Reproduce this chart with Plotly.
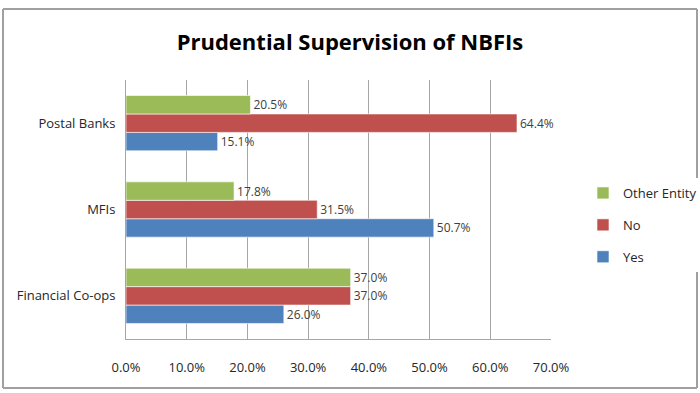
import plotly.graph_objects as go

categories = ["Financial Co-ops", "MFIs", "Postal Banks"]
yes_vals = [26.0, 50.7, 15.1]
no_vals = [37.0, 31.5, 64.4]
other_vals = [37.0, 17.8, 20.5]
tick_vals = [0, 10, 20, 30, 40, 50, 60, 70]
tick_text = [f"{v:.1f}%" for v in tick_vals]

series = [
    ("Yes", yes_vals, "#4F81BD", 3),
    ("No", no_vals, "#C0504D", 2),
    ("Other Entity", other_vals, "#9BBB59", 1),
]

fig = go.Figure()
for name, vals, color, rank in series:
    fig.add_trace(go.Bar(
        y=categories, x=vals, name=name, orientation="h",
        marker=dict(color=color, line=dict(color="rgba(255,255,255,0.6)", width=1)),
        text=[f"{v:.1f}%" for v in vals], textposition="outside",
        textfont=dict(family="Open Sans", size=12, color="#404040"),
        cliponaxis=False, legendgroup=name, legendrank=rank,
    ))

L, R, T, B = 126, 149, 80, 54
PW, PH = 700 - L - R, 393 - T - B

def px_x(p):
    return (p - L) / PW

def px_y(p):
    return (393 - B - p) / PH

border = dict(color="#A0A0A0", width=2)
fig.update_layout(
    width=700, height=393,
    margin=dict(l=L, r=R, t=T, b=B, autoexpand=False),
    paper_bgcolor="white", plot_bgcolor="white",
    barmode="group", bargap=0.36, bargroupgap=0.0,
    title=dict(text="<b>Prudential Supervision of NBFIs</b>", x=0.5, xanchor="center",
               y=0.893, yanchor="middle",
               font=dict(family="Open Sans", size=22, color="#000000")),
    font=dict(family="Open Sans", size=13, color="#262626"),
    xaxis=dict(range=[0, 70], tickvals=tick_vals, ticktext=tick_text,
               showgrid=True, gridcolor="#A6A6A6", gridwidth=1,
               showline=True, linecolor="#A6A6A6", zeroline=False,
               ticks="", tickfont=dict(size=13, color="#262626"),
               ticklabelstandoff=16, automargin=False),
    yaxis=dict(showline=True, linecolor="#A6A6A6", showgrid=False,
               ticks="", tickfont=dict(size=13, color="#262626"),
               ticklabelstandoff=7, automargin=False),
    legend=dict(x=px_x(583), xanchor="left", y=px_y(225), yanchor="middle",
                traceorder="grouped", tracegroupgap=12,
                font=dict(size=13, color="#262626"), itemwidth=30),
    showlegend=True,
    shapes=[
        dict(type="line", xref="paper", yref="paper", x0=px_x(3), x1=px_x(697),
             y0=px_y(9), y1=px_y(9), line=border, layer="above"),
        dict(type="line", xref="paper", yref="paper", x0=px_x(3), x1=px_x(697),
             y0=px_y(388), y1=px_y(388), line=border, layer="above"),
        dict(type="line", xref="paper", yref="paper", x0=px_x(3), x1=px_x(3),
             y0=px_y(9), y1=px_y(388), line=border, layer="above"),
        dict(type="line", xref="paper", yref="paper", x0=px_x(697), x1=px_x(697),
             y0=px_y(9), y1=px_y(388), line=border, layer="above"),
    ],
)

fig.write_html("out.html", config={"displayModeBar": False},
               post_script="document.body.style.margin='0';")
